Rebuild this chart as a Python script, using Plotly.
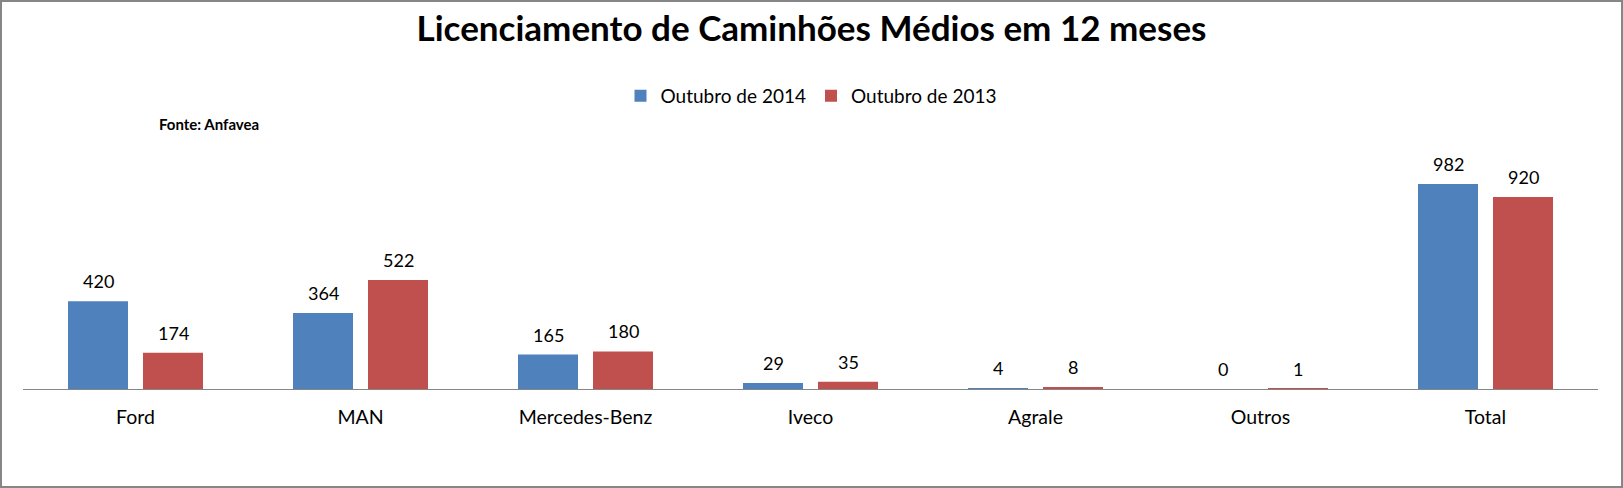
import plotly.graph_objects as go

categories = ["Ford", "MAN", "Mercedes-Benz", "Iveco", "Agrale", "Outros", "Total"]
out_2014 = [420, 364, 165, 29, 4, 0, 982]
out_2013 = [174, 522, 180, 35, 8, 1, 920]
series_names = ["Outubro de 2014", "Outubro de 2013"]
colors = ["#4F81BD", "#C0504D"]

W, H = 1623, 488
L, R, T, B = 23, 25, 150, 99
pw, ph = W - L - R, H - T - B
AX = H - B  # axis pixel row

fig = go.Figure()
for name, vals, c in zip(series_names, [out_2014, out_2013], colors):
    fig.add_trace(go.Bar(x=categories, y=vals, name=name, marker_color=c,
                         marker_line_width=0))

ymax = (AX - T) / ((AX - 184) / 982)

annotations = []
for vals, shift in [(out_2014, -37.5), (out_2013, 37.5)]:
    for cat, v in zip(categories, vals):
        annotations.append(dict(x=cat, y=v, xref="x", yref="y", text=str(v),
                                showarrow=False, xshift=shift, yshift=20,
                                font=dict(size=18, color="#000000")))
annotations.append(dict(x=(157 - L) / pw, y=(AX - 124) / ph, xref="paper", yref="paper",
                        xanchor="left", yanchor="middle", text="<b>Fonte: Anfavea</b>",
                        showarrow=False, font=dict(size=15, color="#000000")))

fig.update_layout(
    width=W, height=H,
    margin=dict(l=L, r=R, t=T, b=B, pad=0),
    paper_bgcolor="white", plot_bgcolor="white",
    font=dict(family="Lato, 'Open Sans', sans-serif", color="#000000"),
    title=dict(text="<b>Licenciamento de Caminhões Médios em 12 meses</b>",
               x=0.5, xref="container", xanchor="center",
               y=1 - 29 / H, yanchor="middle", font=dict(size=35, color="#000000")),
    legend=dict(orientation="h", x=(811 - L) / pw, xanchor="center",
                y=(AX - 96) / ph, yanchor="middle", font=dict(size=19),
                itemwidth=30, traceorder="normal", bgcolor="rgba(0,0,0,0)"),
    barmode="group", bargap=1/3, bargroupgap=0.2,
    xaxis=dict(showline=True, linecolor="#868686", linewidth=1, ticks="",
               tickfont=dict(size=19.5), ticklabelstandoff=11, showgrid=False,
               fixedrange=True),
    yaxis=dict(range=[0, ymax], visible=False, showgrid=False, zeroline=False,
               fixedrange=True),
    annotations=annotations,
    shapes=[dict(type="rect", xref="paper", yref="paper",
                 x0=(1 - L) / pw, x1=(W - 1 - L) / pw,
                 y0=(AX - (H - 1)) / ph, y1=(AX - 1) / ph,
                 line=dict(color="#868686", width=2), fillcolor="rgba(0,0,0,0)")],
)

fig.write_html("out.html",
               config={"displayModeBar": False},
               post_script="document.body.style.margin='0';"
                           "document.documentElement.style.overflow='hidden';")
